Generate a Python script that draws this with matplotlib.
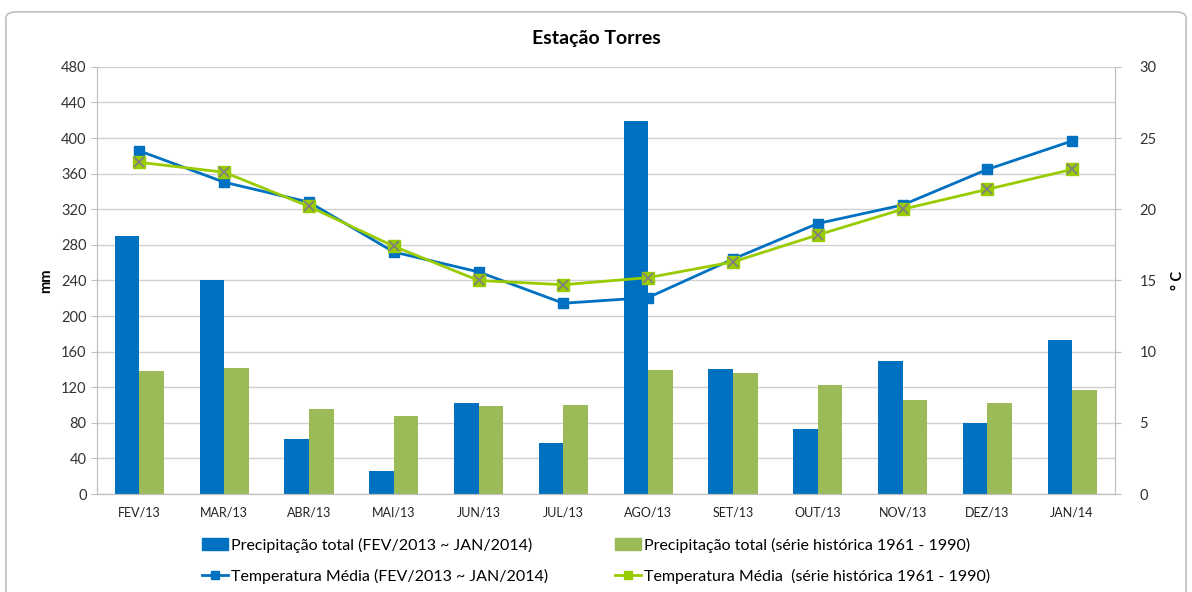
import numpy as np
import matplotlib.pyplot as plt
from matplotlib.patches import FancyBboxPatch
from matplotlib.lines import Line2D
from matplotlib.patches import Patch

plt.rcParams['font.family'] = ['Lato', 'DejaVu Sans']

meses = ['FEV/13', 'MAR/13', 'ABR/13', 'MAI/13', 'JUN/13', 'JUL/13',
         'AGO/13', 'SET/13', 'OUT/13', 'NOV/13', 'DEZ/13', 'JAN/14']
prec_2013 = [290, 241, 62, 26, 102, 57, 419, 141, 73, 150, 80, 173]
prec_hist = [138, 142, 96, 88, 99, 100, 139, 136, 123, 106, 102, 117]
temp_2013 = [24.1, 21.9, 20.5, 17.0, 15.6, 13.4, 13.8, 16.5, 19.0, 20.3, 22.8, 24.8]
temp_hist = [23.3, 22.6, 20.2, 17.4, 15.0, 14.7, 15.2, 16.3, 18.2, 20.0, 21.4, 22.8]

azul = '#0070C0'
verde_barra = '#9BBB59'
verde_linha = '#99CC00'

fig = plt.figure(figsize=(11.92, 5.92), dpi=100)
borda = FancyBboxPatch((0.005, -0.05), 0.99, 1.03, boxstyle='round,pad=0,rounding_size=0.01',
                       transform=fig.transFigure, fc='none', ec='#BFBFBF', lw=1.2, zorder=-1)
fig.patches.append(borda)
ax = fig.add_axes([0.0814, 0.1655, 0.8536, 0.7215])

x = np.arange(len(meses))
w = 0.29
ax.bar(x - w / 2, prec_2013, w, color=azul, zorder=2)
ax.bar(x + w / 2, prec_hist, w, color=verde_barra, zorder=2)
ax.set_xlim(-0.5, 11.5)
ax.set_ylim(0, 480)
ax.set_yticks(range(0, 481, 40))
ax.grid(axis='y', color='#D0D0D0', lw=1, zorder=0)
ax.set_axisbelow(True)
ax.set_xticks(x)
ax.set_xticklabels(meses, fontsize=9)
ax.tick_params(axis='y', labelsize=10.5, colors='#333333', length=4, color='#BFBFBF')
ax.tick_params(axis='x', length=0, pad=9, labelcolor='#222222')
ax.spines['top'].set_visible(False)
for s in ['left', 'right', 'bottom']:
    ax.spines[s].set_color('#BFBFBF')
ax.set_ylabel('mm', fontsize=10.5, fontweight='bold', labelpad=6)

ax2 = ax.twinx()
ax2.set_ylim(0, 30)
ax2.set_yticks(range(0, 31, 5))
ax2.spines['top'].set_visible(False)
for s in ['left', 'right', 'bottom']:
    ax2.spines[s].set_color('#BFBFBF')
ax2.tick_params(axis='y', labelsize=10.5, colors='#333333', length=4, color='#BFBFBF', pad=14)
ax2.set_ylabel('° C', fontsize=10.5, fontweight='bold', rotation=90, labelpad=10)
ax2.plot(x, temp_2013, color=azul, lw=2, marker='s', ms=7, zorder=3)
ax2.plot(x, temp_hist, color=verde_linha, lw=2, marker='s', ms=8, zorder=4)
ax2.plot(x, temp_hist, ls='none', marker='x', ms=7, mew=1.3, color='#808080', zorder=5)

fig.text(0.5, 0.925, 'Estação Torres', ha='center', fontsize=14, fontweight='bold')

handles = [
    Patch(color=azul, label='Precipitação total (FEV/2013 ~ JAN/2014)'),
    Line2D([], [], color=azul, lw=2, marker='s', ms=6, label='Temperatura Média (FEV/2013 ~ JAN/2014)'),
    Patch(color=verde_barra, label='Precipitação total (série histórica 1961 - 1990)'),
    Line2D([], [], color=verde_linha, lw=2, marker='s', ms=6, mec=verde_linha,
           label='Temperatura Média  (série histórica 1961 - 1990)'),
]
fig.legend(handles=handles, ncol=2, loc='lower center', bbox_to_anchor=(0.5, -0.01),
           frameon=False, fontsize=11.5, handlelength=1.6, handletextpad=0.2,
           columnspacing=4.2, labelspacing=1.0)

fig.savefig('out.png', dpi=100)
